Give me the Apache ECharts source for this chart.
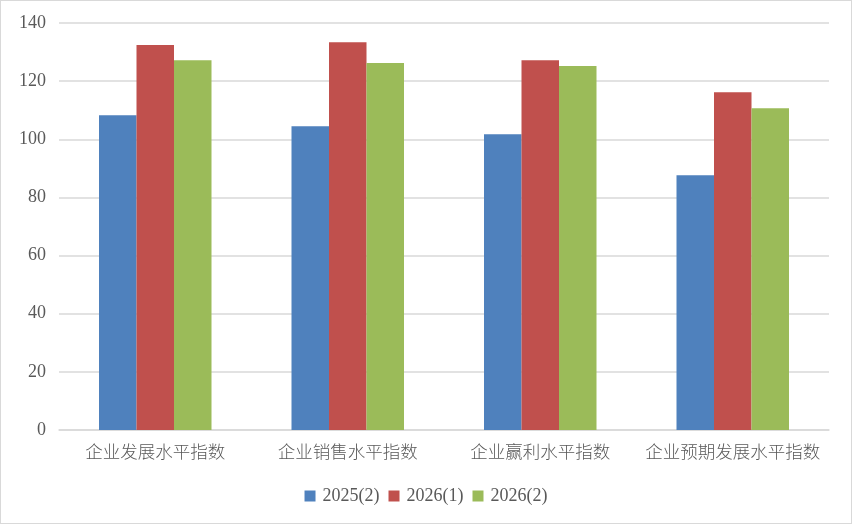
<!DOCTYPE html>
<html>
<head>
<meta charset="utf-8">
<style>
  html, body { margin: 0; padding: 0; background: #fff; }
  #chart { width: 850px; height: 522px; border: 1px solid #d9d9d9; }
</style>
<script src="https://cdn.jsdelivr.net/npm/echarts@6/dist/echarts.min.js"></script>
</head>
<body>
<div id="chart"></div>
<script>
// categories and values
var categories = ['企业发展水平指数', '企业销售水平指数', '企业赢利水平指数', '企业预期发展水平指数'];
var seriesNames = ['2025(2)', '2026(1)', '2026(2)'];
var v2025_2 = [108.3, 104.5, 101.7, 87.6];
var v2026_1 = [132.4, 133.4, 127.2, 116.2];
var v2026_2 = [127.2, 126.2, 125.2, 110.7];
var colors = ['#4f81bd', '#c0504d', '#9bbb59'];

var chart = echarts.init(document.getElementById('chart'));

var makeBar = function (name, data, i) {
    return {
        name: name,
        type: 'bar',
        data: data,
        barWidth: 37.5,
        barGap: '0%',
        itemStyle: { color: colors[i] }
    };
};

chart.setOption({
    animation: false,
    grid: { left: 58, right: 22, top: 22, bottom: 93 },
    legend: {
        bottom: 13,
        left: 'center',
        itemWidth: 11,
        itemHeight: 11,
        itemGap: 9,
        icon: 'rect',
        textStyle: { color: '#595959', fontSize: 18, fontFamily: 'Liberation Serif', padding: [0, 0, 0, 2] },
        data: seriesNames
    },
    xAxis: {
        type: 'category',
        data: categories,
        axisTick: { show: false },
        axisLine: { lineStyle: { color: '#d9d9d9', width: 1.5 } },
        axisLabel: {
            interval: 0,
            color: '#595959',
            fontSize: 17.5,
            margin: 13,
            fontFamily: 'Noto Sans CJK SC',
            fontWeight: 300
        }
    },
    yAxis: {
        type: 'value',
        min: 0,
        max: 140,
        interval: 20,
        axisLine: { show: false },
        axisTick: { show: false },
        splitLine: { lineStyle: { color: '#d9d9d9', width: 1.5 } },
        axisLabel: { color: '#595959', fontSize: 18, margin: 13, fontFamily: 'Liberation Serif' }
    },
    series: [
        makeBar(seriesNames[0], v2025_2, 0),
        makeBar(seriesNames[1], v2026_1, 1),
        makeBar(seriesNames[2], v2026_2, 2)
    ]
});
</script>
</body>
</html>
